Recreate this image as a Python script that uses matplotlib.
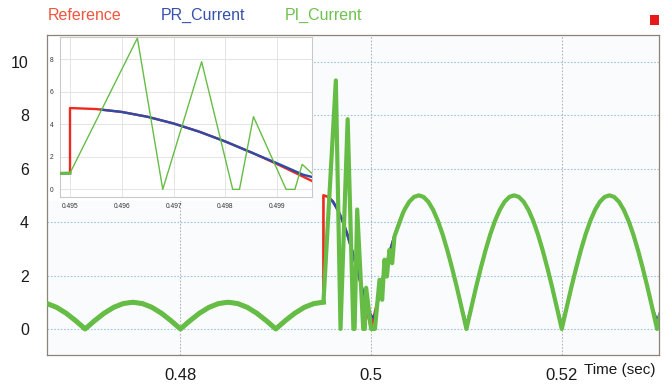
import matplotlib
matplotlib.use('Agg')
import matplotlib.pyplot as plt
from matplotlib.patches import Rectangle

plt.rcParams['font.family'] = ['Liberation Sans', 'DejaVu Sans']

NAN = float('nan')

# ---------------- data ----------------
series_names = ['Reference', 'PR_Current', 'PI_Current']

# common pre-step part (all three currents coincide)
t_pre = [0.465, 0.466, 0.467, 0.468, 0.469, 0.470, 0.471, 0.472, 0.473, 0.474,
         0.475, 0.476, 0.477, 0.478, 0.479, 0.480, 0.481, 0.482, 0.483, 0.484,
         0.485, 0.486, 0.487, 0.488, 0.489, 0.490, 0.491, 0.492, 0.493, 0.494,
         0.495]
i_pre = [1.0, 0.95, 0.81, 0.59, 0.31, 0.0, 0.31, 0.59, 0.81, 0.95,
         1.0, 0.95, 0.81, 0.59, 0.31, 0.0, 0.31, 0.59, 0.81, 0.95,
         1.0, 0.95, 0.81, 0.59, 0.31, 0.0, 0.31, 0.59, 0.81, 0.95,
         1.0]

# Reference after the step
t_ref_post = [0.495, 0.4955, 0.496, 0.4965, 0.497, 0.4975, 0.498, 0.4985, 0.499, 0.4995,
              0.500, 0.5005, 0.501, 0.5015, 0.502, 0.5025, 0.503, 0.5035, 0.504, 0.5045,
              0.505, 0.5055, 0.506, 0.5065, 0.507, 0.5075, 0.508, 0.5085, 0.509, 0.5095,
              0.510, 0.5105, 0.511, 0.5115, 0.512, 0.5125, 0.513, 0.5135, 0.514, 0.5145,
              0.515, 0.5155, 0.516, 0.5165, 0.517, 0.5175, 0.518, 0.5185, 0.519, 0.5195,
              0.520, 0.5205, 0.521, 0.5215, 0.522, 0.5225, 0.523, 0.5235, 0.524, 0.5245,
              0.525, 0.5255, 0.526, 0.5265, 0.527, 0.5275, 0.528, 0.5285, 0.529, 0.5295,
              0.530, 0.5305, 0.531]
i_ref_post = [5.0, 4.94, 4.76, 4.46, 4.05, 3.54, 2.94, 2.27, 1.55, 0.78,
              0.0, 0.78, 1.55, 2.27, 2.94, 3.54, 4.05, 4.46, 4.76, 4.94,
              5.0, 4.94, 4.76, 4.46, 4.05, 3.54, 2.94, 2.27, 1.55, 0.78,
              0.0, 0.78, 1.55, 2.27, 2.94, 3.54, 4.05, 4.46, 4.76, 4.94,
              5.0, 4.94, 4.76, 4.46, 4.05, 3.54, 2.94, 2.27, 1.55, 0.78,
              0.0, 0.78, 1.55, 2.27, 2.94, 3.54, 4.05, 4.46, 4.76, 4.94,
              5.0, 4.94, 4.76, 4.46, 4.05, 3.54, 2.94, 2.27, 1.55, 0.78,
              0.0, 0.78, 1.55]

# PR controller current after the step (its rise is hidden under the PI trace)
t_pr_post = [0.495, 0.49561, 0.496, 0.4965, 0.497, 0.4975, 0.498, 0.4985, 0.499, 0.4995,
             0.500, 0.50035, 0.5007, 0.501, 0.5015, 0.502, 0.5025, 0.503, 0.5035, 0.504,
             0.5045, 0.505, 0.5055, 0.506, 0.5065, 0.507, 0.5075, 0.508, 0.5085, 0.509,
             0.5095, 0.510, 0.5105, 0.511, 0.5115, 0.512, 0.5125, 0.513, 0.5135, 0.514,
             0.5145, 0.515, 0.5155, 0.516, 0.5165, 0.517, 0.5175, 0.518, 0.5185, 0.519,
             0.5195, 0.520, 0.5205, 0.521, 0.5215, 0.522, 0.5225, 0.523, 0.5235, 0.524,
             0.5245, 0.525, 0.5255, 0.526, 0.5265, 0.527, 0.5275, 0.528, 0.5285, 0.529,
             0.5295, 0.530, 0.5305, 0.531]
i_pr_post = [NAN, 4.90, 4.76, 4.46, 4.05, 3.54, 2.94, 2.27, 1.60, 0.90,
             0.50, 0.40, 1.00, 1.55, 2.27, 2.94, 3.54, 4.05, 4.46, 4.76,
             4.94, 5.0, 4.94, 4.76, 4.46, 4.05, 3.54, 2.94, 2.27, 1.55,
             0.78, 0.15, 0.78, 1.55, 2.27, 2.94, 3.54, 4.05, 4.46, 4.76,
             4.94, 5.0, 4.94, 4.76, 4.46, 4.05, 3.54, 2.94, 2.27, 1.55,
             0.78, 0.15, 0.78, 1.55, 2.27, 2.94, 3.54, 4.05, 4.46, 4.76,
             4.94, 5.0, 4.94, 4.76, 4.46, 4.05, 3.54, 2.94, 2.27, 1.55,
             0.78, 0.30, 0.78, 1.55]

# PI controller current after the step
t_pi_post = [0.4963, 0.49679, 0.49754, 0.49814, 0.49827, 0.49854, 0.49917, 0.49934, 0.49948, 0.5000,
             0.5004, 0.50088, 0.50116, 0.5014, 0.50165, 0.50193, 0.50221, 0.50245, 0.50333, 0.5035,
             0.504, 0.5045, 0.505, 0.5055, 0.506, 0.5065, 0.507, 0.5075, 0.508, 0.5085,
             0.509, 0.5095, 0.510, 0.5105, 0.511, 0.5115, 0.512, 0.5125, 0.513, 0.5135,
             0.514, 0.5145, 0.515, 0.5155, 0.516, 0.5165, 0.517, 0.5175, 0.518, 0.5185,
             0.519, 0.5195, 0.520, 0.5205, 0.521, 0.5215, 0.522, 0.5225, 0.523, 0.5235,
             0.524, 0.5245, 0.525, 0.5255, 0.526, 0.5265, 0.527, 0.5275, 0.528, 0.5285,
             0.529, 0.5295, 0.530, 0.5305, 0.531]
i_pi_post = [9.3, 0.0, 7.85, 0.0, 0.0, 4.47, 0.0, 0.0, 1.54, 0.0,
             0.0, 1.84, 1.09, 2.59, 1.96, 2.96, 2.46, 3.46, 4.33, 4.46,
             4.76, 4.94, 5.0, 4.94, 4.76, 4.46, 4.05, 3.54, 2.94, 2.27,
             1.55, 0.78, 0.0, 0.78, 1.55, 2.27, 2.94, 3.54, 4.05, 4.46,
             4.76, 4.94, 5.0, 4.94, 4.76, 4.46, 4.05, 3.54, 2.94, 2.27,
             1.55, 0.78, 0.0, 0.78, 1.55, 2.27, 2.94, 3.54, 4.05, 4.46,
             4.76, 4.94, 5.0, 4.94, 4.76, 4.46, 4.05, 3.54, 2.94, 2.27,
             1.55, 0.78, 0.0, 0.78, 1.55]

main_xticks = [0.48, 0.5, 0.52]
main_xticklabels = ['0.48', '0.5', '0.52']
main_yticks = [0, 2, 4, 6, 8, 10]
inset_xticks = [0.495, 0.496, 0.497, 0.498, 0.499]
inset_yticks = [0, 2, 4, 6, 8]

t_ref = t_pre + t_ref_post
i_ref = i_pre + i_ref_post
t_pr = t_pre + t_pr_post
i_pr = i_pre + i_pr_post
t_pi = t_pre + t_pi_post
i_pi = i_pre + i_pi_post

RED = '#EE2A1E'
BLUE = '#2B4DA8'
GREEN = '#66BD45'
TXT_RED = '#F0553F'
TXT_BLUE = '#3551AE'
TXT_GREEN = '#6CC24C'

W, H = 672, 387
fig = plt.figure(figsize=(W / 100, H / 100), dpi=100)
fig.patch.set_facecolor('#FFFFFF')


def fx(px):
    return px / W


def fy(py):
    return 1 - py / H


# ---------------- main axes ----------------
L, R, T, B = 47, 659, 35, 355
ax = fig.add_axes([fx(L), fy(B), fx(R) - fx(L), fy(T) - fy(B)])
ax.set_facecolor('#FAFBFC')
ax.plot(t_ref, i_ref, color=RED, lw=1.9, zorder=3)
ax.plot(t_pr, i_pr, color=BLUE, lw=1.9, zorder=4)
ax.plot(t_pi, i_pi, color=GREEN, lw=3.0, zorder=5)
ax.plot(t_pre, i_pre, color=GREEN, lw=3.6, zorder=5.5)   # rippled, thicker trace before the step
ax.set_xlim(0.466, 0.5302)
ax.set_ylim(-0.975, 11.0)
ax.set_xticks(main_xticks)
ax.set_xticklabels(main_xticklabels)
ax.set_yticks(main_yticks)
ax.tick_params(axis='both', length=0, colors='#1A1A1A')
ax.tick_params(axis='y', pad=13, labelsize=11.5)
ax.tick_params(axis='x', pad=9, labelsize=12)
ax.grid(axis='y', color='#9DC8DF', linestyle=(0, (1.5, 1.5)), lw=0.8)
ax.grid(axis='x', color='#AEB6BE', linestyle=(0, (1.5, 1.5)), lw=0.8)
for s in ax.spines.values():
    s.set_color('#8F8078')
    s.set_linewidth(0.9)

# white panel behind the inset
ax.add_patch(Rectangle((0, (B - 201) / (B - T)), (313 - L) / (R - L), 1 - (B - 201) / (B - T),
                       transform=ax.transAxes, facecolor='#FFFFFF', edgecolor='none', zorder=2))

# ---------------- inset ----------------
iL, iR, iT, iB = 60, 311.7, 37.3, 196.7
axi = fig.add_axes([fx(iL), fy(iB), fx(iR) - fx(iL), fy(iT) - fy(iB)])
axi.set_zorder(3)
axi.set_facecolor('#FFFFFF')
axi.plot(t_ref, i_ref, color=RED, lw=1.7, zorder=3)
axi.plot(t_pr, i_pr, color=BLUE, lw=1.7, zorder=4)
axi.plot(t_pi, i_pi, color=GREEN, lw=1.0, zorder=5)
axi.plot(t_pre, i_pre, color=GREEN, lw=2.2, zorder=5.5)
axi.set_xlim(0.494807, 0.499664)
axi.set_ylim(-0.45, 9.35)
axi.set_xticks(inset_xticks)
axi.set_xticklabels([f'{v:g}' for v in inset_xticks])
axi.set_yticks(inset_yticks)
axi.tick_params(axis='both', length=0, labelsize=4.8, colors='#333333', pad=4.5)
axi.grid(True, color='#E4E4E4', lw=0.7)
axi.set_axisbelow(True)
for s in axi.spines.values():
    s.set_color('#C9C9C9')
    s.set_linewidth(0.8)

# ---------------- legend texts / labels ----------------
fig.text(fx(47.5), fy(15), series_names[0], color=TXT_RED, fontsize=11.5, ha='left', va='center')
fig.text(fx(161), fy(15), series_names[1], color=TXT_BLUE, fontsize=11.5, ha='left', va='center')
fig.text(fx(285), fy(15), series_names[2], color=TXT_GREEN, fontsize=11.5, ha='left', va='center')
fig.patches.append(Rectangle((fx(650), fy(25)), 9 / W, 10 / H, transform=fig.transFigure,
                             facecolor='#E8191A', edgecolor='none'))
fig.text(fx(656), fy(370), 'Time (sec)', color='#1A1A1A', fontsize=11, ha='right', va='center')

fig.savefig('out.png', dpi=100, facecolor=fig.get_facecolor())
